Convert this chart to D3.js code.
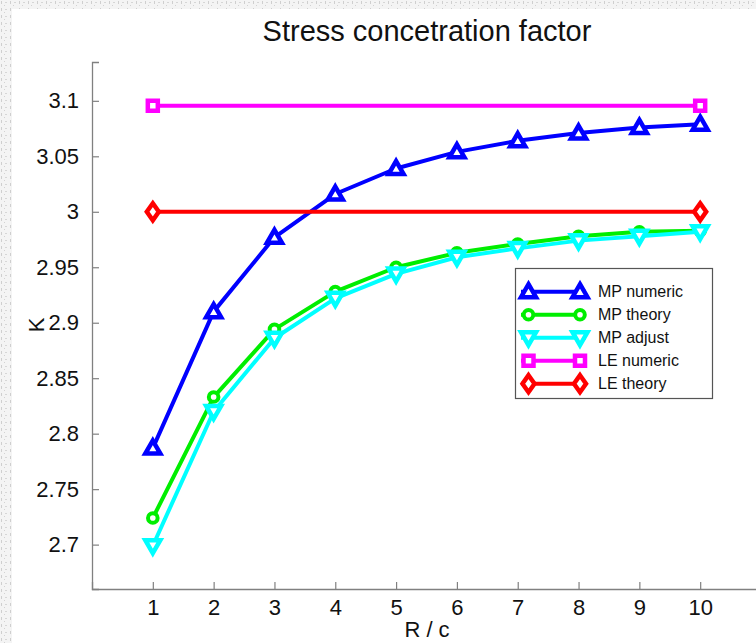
<!DOCTYPE html>
<html>
<head>
<meta charset="utf-8">
<script src="https://cdn.jsdelivr.net/npm/d3@7"></script>
<style>
  html, body { margin: 0; padding: 0; background: #fff; }
  svg { display: block; }
  text { font-family: "Liberation Sans", Arial, Helvetica, sans-serif; fill: #111; }
</style>
</head>
<body>
<svg id="chart" width="756" height="643"></svg>
<script>
// R/c ratios along the x axis
const ratios = [1, 2, 3, 4, 5, 6, 7, 8, 9, 10];
// Stress concentration factor K for each series
const mpNumeric = [2.787, 2.910, 2.977, 3.016, 3.039, 3.054, 3.064, 3.071, 3.076, 3.079];
const mpTheory  = [2.724, 2.833, 2.894, 2.928, 2.950, 2.963, 2.971, 2.978, 2.982, 2.983];
const mpAdjust  = [2.699, 2.820, 2.886, 2.922, 2.944, 2.959, 2.967, 2.974, 2.978, 2.982];
// LE series are constant, drawn between the first and last ratio
const leRatios  = [1, 10];
const leNumeric = [3.0956, 3.0956];
const leTheory  = [3.0, 3.0];

const xTickValues = [1, 2, 3, 4, 5, 6, 7, 8, 9, 10];
const yTickValues = [2.7, 2.75, 2.8, 2.85, 2.9, 2.95, 3.0, 3.05, 3.1];

const seriesNames  = ["MP numeric", "MP theory", "MP adjust", "LE numeric", "LE theory"];
const seriesColors = ["#0000ff", "#00ee00", "#00ffff", "#ff00ff", "#ff0000"];
const seriesMarks  = ["triUp", "circle", "triDown", "square", "diamond"];

const series = [
  { x: ratios,   y: mpNumeric },
  { x: ratios,   y: mpTheory },
  { x: ratios,   y: mpAdjust },
  { x: leRatios, y: leNumeric },
  { x: leRatios, y: leTheory }
].map((s, i) => ({
  name: seriesNames[i], color: seriesColors[i], mark: seriesMarks[i],
  points: s.x.map((xv, j) => [xv, s.y[j]])
}));

const svg = d3.select("#chart");
const W = 756, H = 643;

// grainy frame around the figure
const defs = svg.append("defs");
const pat = defs.append("pattern").attr("id", "grain")
  .attr("patternUnits", "userSpaceOnUse").attr("width", 9).attr("height", 7);
pat.append("rect").attr("width", 9).attr("height", 7).attr("fill", "#f4f4f4");
pat.append("rect").attr("x", 1).attr("y", 1).attr("width", 1).attr("height", 3).attr("fill", "#cfcfcf");
pat.append("rect").attr("x", 5).attr("y", 2).attr("width", 2).attr("height", 1).attr("fill", "#d6d6d6");
pat.append("rect").attr("x", 4).attr("y", 5).attr("width", 1).attr("height", 1).attr("fill", "#d2d2d2");
svg.append("rect").attr("width", W).attr("height", H).attr("fill", "url(#grain)");
svg.append("rect").attr("x", 12).attr("y", 9).attr("width", W - 12).attr("height", H - 9).attr("fill", "#fff");

const plot = { left: 92, right: 761, top: 62, bottom: 589 };

const x = d3.scaleLinear().domain([0, 11]).range([plot.left, plot.right]);
const y = d3.scaleLinear().domain([2.66, 3.135]).range([plot.bottom, plot.top]);

const axisColor = "#808080";

// y axis: ticks point inwards
const yAxis = d3.axisLeft(y).tickValues(yTickValues)
  .tickSize(-7).tickPadding(13).tickFormat(d => String(+d.toFixed(2)));
const gy = svg.append("g").attr("transform", `translate(${plot.left},0)`).call(yAxis);
gy.select(".domain").attr("stroke", axisColor).attr("stroke-width", 1.3);
gy.selectAll(".tick line").attr("stroke", axisColor).attr("stroke-width", 1.2);
gy.selectAll(".tick text").style("font-size", "22px").attr("fill", "#111")
  .attr("font-family", "Liberation Sans, Arial, sans-serif");

// x axis: ticks point inwards
const xAxis = d3.axisBottom(x).tickValues(xTickValues)
  .tickSize(-7).tickPadding(10).tickFormat(d3.format("d"));
const gx = svg.append("g").attr("transform", `translate(0,${plot.bottom})`).call(xAxis);
gx.select(".domain").attr("stroke", axisColor).attr("stroke-width", 1.3);
gx.selectAll(".tick line").attr("stroke", axisColor).attr("stroke-width", 1.2);
gx.selectAll(".tick text").style("font-size", "22px").attr("fill", "#111")
  .attr("font-family", "Liberation Sans, Arial, sans-serif");

// titles
svg.append("text").attr("x", 427).attr("y", 41).attr("text-anchor", "middle")
  .style("font-size", "29px").text("Stress concetration factor");
svg.append("text").attr("x", 427).attr("y", 637).attr("text-anchor", "middle")
  .style("font-size", "22px").text("R / c");
svg.append("text").attr("transform", "translate(44,325) rotate(-90)")
  .attr("text-anchor", "middle").style("font-size", "22px").text("K");

// marker outlines, centred on the data point
function markerPath(kind) {
  switch (kind) {
    case "triUp":   return "M0,-7.5L7.5,5.5L-7.5,5.5Z";
    case "triDown": return "M0,7.5L7.5,-5.5L-7.5,-5.5Z";
    case "square":  return "M-5,-5H5V5H-5Z";
    case "diamond": return "M0,-8.5L6,0L0,8.5L-6,0Z";
    default:        return "";
  }
}
function drawMarker(g, kind, color, cx, cy) {
  if (kind === "circle") {
    g.append("circle").attr("cx", cx).attr("cy", cy).attr("r", 4.8)
      .attr("fill", "#fff").attr("stroke", color).attr("stroke-width", 4);
  } else {
    g.append("path").attr("d", markerPath(kind))
      .attr("transform", `translate(${cx},${cy})`)
      .attr("fill", "#fff").attr("stroke", color).attr("stroke-width", 4.5)
      .attr("stroke-linejoin", "miter");
  }
}

const line = d3.line().x(d => x(d[0])).y(d => y(d[1]));
const plotG = svg.append("g");
series.forEach(s => {
  const g = plotG.append("g");
  g.append("path").attr("d", line(s.points)).attr("fill", "none")
    .attr("stroke", s.color).attr("stroke-width", 4).attr("stroke-linejoin", "round");
  s.points.forEach(p => drawMarker(g, s.mark, s.color, x(p[0]), y(p[1])));
});

// legend
const lg = svg.append("g");
const box = { x: 515.5, y: 268.5, w: 197, h: 130 };
lg.append("rect").attr("x", box.x).attr("y", box.y).attr("width", box.w).attr("height", box.h)
  .attr("fill", "#fff").attr("stroke", "#555").attr("stroke-width", 1.2);
series.forEach((s, i) => {
  const ry = 291.7 + i * 23;
  const g = lg.append("g");
  g.append("line").attr("x1", 521).attr("x2", 586).attr("y1", ry).attr("y2", ry)
    .attr("stroke", s.color).attr("stroke-width", 4);
  drawMarker(g, s.mark, s.color, 528.5, ry);
  drawMarker(g, s.mark, s.color, 580, ry);
  g.append("text").attr("x", 598).attr("y", ry + 5.5).style("font-size", "16px").text(s.name);
});
</script>
</body>
</html>
